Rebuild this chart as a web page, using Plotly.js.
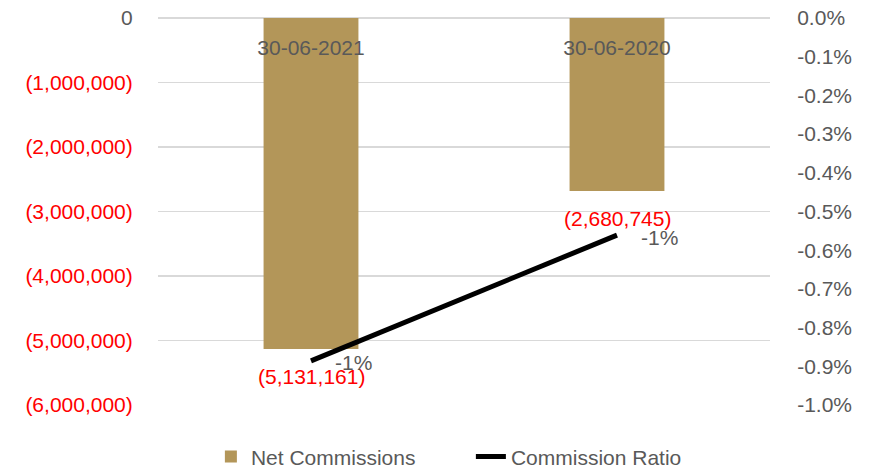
<!DOCTYPE html>
<html>
<head>
<meta charset="utf-8">
<script src="https://cdn.plot.ly/plotly-3.0.1.min.js"></script>
<style>html,body{margin:0;padding:0;background:#fff;}#chart{width:872px;height:470px;}</style>
</head>
<body>
<div id="chart"></div>
<script>
// ---- data ----
const categories = ["30-06-2021", "30-06-2020"];
const netCommissions = [-5131161, -2680745];
const netCommissionLabels = ["(5,131,161)", "(2,680,745)"];
const commissionRatio = [-0.00886, -0.00561];
const commissionRatioLabels = ["-1%", "-1%"];
const leftTickVals = [0, -1000000, -2000000, -3000000, -4000000, -5000000, -6000000];
const leftTickText = ["0", "(1,000,000)", "(2,000,000)", "(3,000,000)", "(4,000,000)", "(5,000,000)", "(6,000,000)"];
const rightTickVals = [0, -0.001, -0.002, -0.003, -0.004, -0.005, -0.006, -0.007, -0.008, -0.009, -0.01];
const rightTickText = ["0.0%", "-0.1%", "-0.2%", "-0.3%", "-0.4%", "-0.5%", "-0.6%", "-0.7%", "-0.8%", "-0.9%", "-1.0%"];

// ---- styles ----
const FONT = "Liberation Sans, Arial, sans-serif";
const GRAY = "#595959";
const RED = "#FF0000";
const BAR = "#B39659";

const leftTickTextStyled = leftTickText.map((t, i) =>
  leftTickVals[i] < 0 ? "<span style='color:" + RED + "'>" + t + "</span>" : t);

const traces = [
  {
    type: "bar", name: "Net Commissions", x: categories, y: netCommissions,
    marker: {color: BAR}, width: 0.31, yaxis: "y", xaxis: "x", hoverinfo: "skip"
  },
  {
    type: "scatter", mode: "lines", name: "Commission Ratio", x: categories, y: commissionRatio,
    line: {color: "#000000", width: 5}, yaxis: "y2", xaxis: "x", hoverinfo: "skip"
  }
];

const annotations = [];
categories.forEach((c, i) => {
  annotations.push({
    x: c, y: netCommissions[i], xref: "x", yref: "y", text: netCommissionLabels[i],
    showarrow: false, yshift: -28, font: {family: FONT, size: 21, color: RED}
  });
  annotations.push({
    x: c, y: commissionRatio[i], xref: "x", yref: "y2", text: commissionRatioLabels[i],
    showarrow: false, xanchor: "left", xshift: 22, yshift: -2, font: {family: FONT, size: 21, color: GRAY}
  });
});

const layout = {
  width: 872, height: 470,
  margin: {l: 158, r: 102, t: 18, b: 65, pad: 0, autoexpand: false},
  paper_bgcolor: "#ffffff", plot_bgcolor: "#ffffff",
  font: {family: FONT, size: 21, color: GRAY},
  showlegend: true,
  legend: {
    orientation: "h", x: 0.54, xanchor: "center", xref: "container",
    y: -0.134, yanchor: "middle", yref: "paper", entrywidth: 215,
    font: {family: FONT, size: 21, color: GRAY}, traceorder: "normal"
  },
  xaxis: {
    type: "category", anchor: "free", position: 1, side: "bottom",
    showgrid: false, showline: false, zeroline: false, tickangle: 0, automargin: false,
    ticks: "outside", ticklen: 11, tickcolor: "rgba(0,0,0,0)",
    tickfont: {family: FONT, size: 21, color: GRAY}
  },
  yaxis: {
    range: [-6000000, 0], tickvals: leftTickVals, ticktext: leftTickTextStyled, automargin: false,
    showgrid: true, gridcolor: "#D9D9D9", gridwidth: 1.5,
    zeroline: true, zerolinecolor: "#D9D9D9", zerolinewidth: 1.5,
    showline: false, ticks: "outside", ticklen: 20, tickcolor: "rgba(0,0,0,0)",
    tickfont: {family: FONT, size: 21, color: GRAY}
  },
  yaxis2: {
    overlaying: "y", side: "right", range: [-0.01, 0], automargin: false,
    tickvals: rightTickVals, ticktext: rightTickText,
    showgrid: false, zeroline: false, showline: false,
    ticks: "outside", ticklen: 22, tickcolor: "rgba(0,0,0,0)",
    tickfont: {family: FONT, size: 21, color: GRAY}
  },
  annotations: annotations
};

Plotly.newPlot("chart", traces, layout, {displayModeBar: false, staticPlot: true});
</script>
</body>
</html>
